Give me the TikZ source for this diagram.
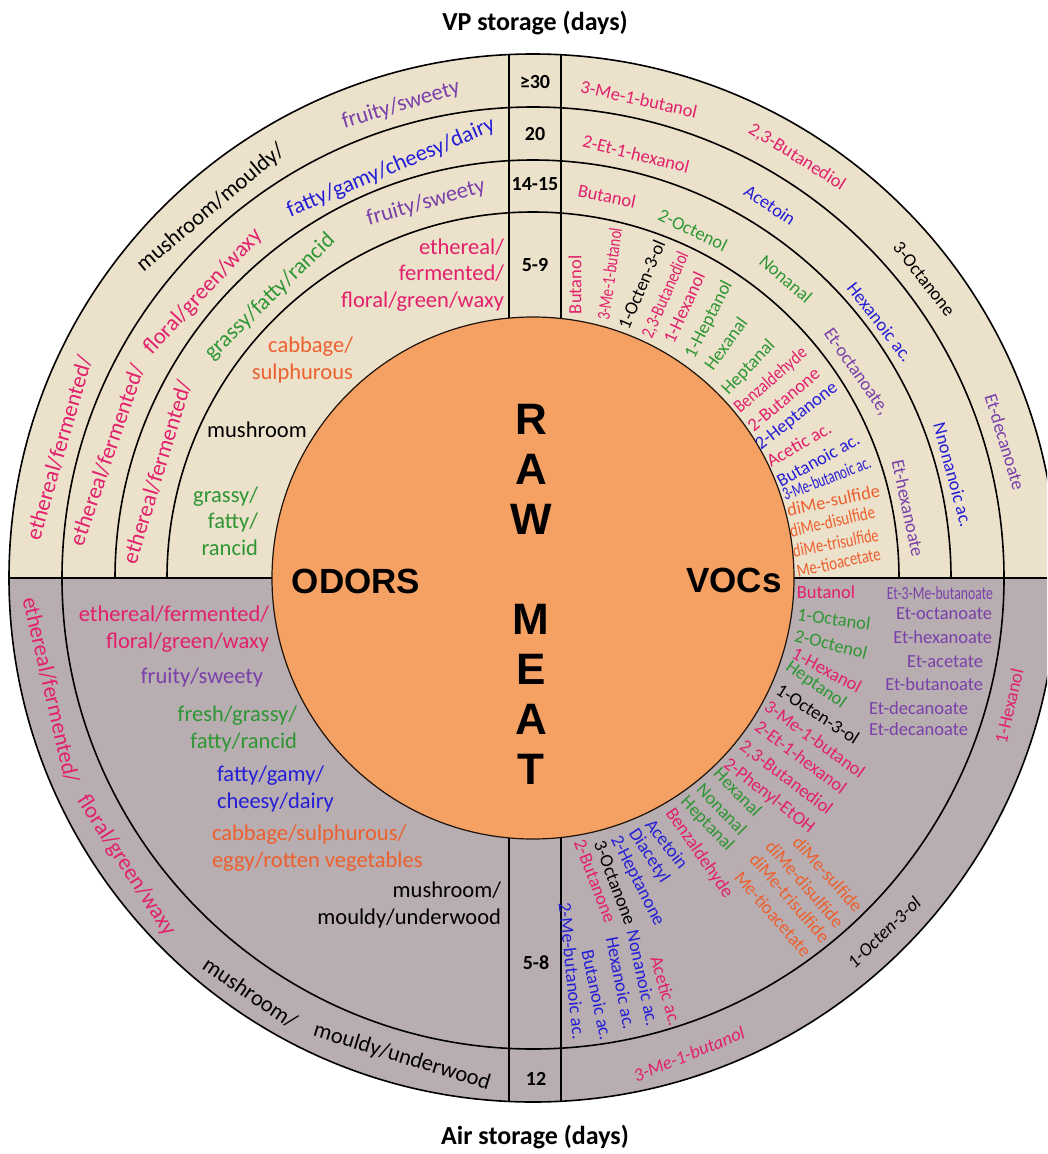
\documentclass[tikz,border=0pt]{standalone}
\usepackage{fontspec}
\setmainfont{Carlito}
\newfontfamily\arialfont{Liberation Sans}
\definecolor{cpink}{RGB}{226,32,108}
\definecolor{cpurple}{RGB}{122,64,170}
\definecolor{cblue}{RGB}{36,30,214}
\definecolor{cgreen}{RGB}{46,150,52}
\definecolor{corange}{RGB}{236,96,46}
\definecolor{ctan}{RGB}{236,225,203}
\definecolor{cgrey}{RGB}{184,173,176}
\definecolor{cmeat}{RGB}{245,161,99}
\newcommand{\fOdor}{\fontsize{22.5}{26.5}\selectfont}
\newcommand{\fVoc}{\fontsize{18.5}{21}\selectfont}
\newcommand{\fNum}{\fontsize{20}{22}\selectfont\bfseries}
\newcommand{\fTitle}{\fontsize{26}{30}\selectfont\bfseries}
\newcommand{\fBig}{\arialfont\fontsize{44}{46}\selectfont\bfseries}
\newcommand{\fMid}{\arialfont\fontsize{35}{40}\selectfont\bfseries}
\newcommand{\cond}[2]{\scalebox{#1}[1]{#2}}
\begin{document}
\begin{tikzpicture}[x=1pt,y=-1pt,
  lbl/.style={inner sep=0pt,outer sep=0pt},
  od/.style={lbl,font=\fOdor},
  vc/.style={lbl,font=\fVoc},
  num/.style={lbl,font=\fNum},
  ring/.style={draw=black,line width=1.6pt}]
\useasboundingbox (0,0) rectangle (1047,1154);
\fill[white] (0,0) rectangle (1047,1154);
\coordinate (C) at (533,578);
\begin{scope}
 \clip (0,0) rectangle (1047,1154);
 \begin{scope}
  \clip (0,0) rectangle (1047,578);
  \fill[ctan] (C) circle[radius=524];
  \draw[ring] (C) circle[radius=418] (C) circle[radius=366];
 \end{scope}
 \begin{scope}
  \clip (0,578) rectangle (1047,1154);
  \fill[cgrey] (C) circle[radius=524];
 \end{scope}
 \draw[ring] (C) circle[radius=471];
 \begin{scope}
  \clip (C) circle[radius=524];
  \draw[ring] (509,0) -- (509,1154) (561,0) -- (561,1154) (0,578) -- (1047,578);
 \end{scope}
 \draw[ring] (C) circle[radius=524];
\end{scope}
\draw[line width=1.2pt, draw=black!85!brown, fill=cmeat] (C) circle[radius=261];

% titles
\node[lbl,font=\fTitle] (t1) at (535,23) {VP storage (days)};
\node[lbl,font=\fTitle] (t2) at (535,1137) {Air storage (days)};

% centre
\node[lbl,font=\fBig] (r1) at (531,419) {R};
\node[lbl,font=\fBig] (r2) at (531,469) {A};
\node[lbl,font=\fBig] (r3) at (531,519) {W};
\node[lbl,font=\fBig] (m1) at (531,619) {M};
\node[lbl,font=\fBig] (m2) at (531,669) {E};
\node[lbl,font=\fBig] (m3) at (531,719) {A};
\node[lbl,font=\fBig] (m4) at (531,769) {T};
\node[lbl,font=\fMid] (odors) at (356,581) {ODORS};
\node[lbl,font=\fMid] (vocs) at (734,580) {VOCs};

% strip numbers
\node[num] (n1) at (535,82) {≥30};
\node[num] (n2) at (535,134) {20};
\node[num] (n3) at (535,184) {14-15};
\node[num] (n4) at (535,265) {5-9};
\node[num] (n5) at (536,963) {5-8};
\node[num] (n6) at (536,1079) {12};

% ---- top-left: VP odors
\node[od,text=cpurple,rotate=17] (a1) at (401,105) {fruity/sweety};
\node[od,text=black,rotate=40] (a2) at (211,208) {mushroom/mouldy/};
\node[od,text=cpink,rotate=74] (a3) at (59,448) {ethereal/fermented/};
\node[od,text=cblue,rotate=23] (b1) at (391,168) {fatty/gamy/cheesy/dairy};
\node[od,text=cpink,rotate=71] (b2) at (107,455) {ethereal/fermented/};
\node[od,text=cpink,rotate=47] (b3) at (203,292) {floral/green/waxy};
\node[od,text=cpurple,rotate=16] (c1) at (426,203) {fruity/sweety};
\node[od,text=cgreen,rotate=44] (c2) at (270,297) {grassy/fatty/rancid};
\node[od,text=cpink,rotate=73] (c3) at (157,472) {ethereal/fermented/};
\node[od,text=cpink,align=right,anchor=east] (d1) at (504,275) {ethereal/\\fermented/\\floral/green/waxy};
\node[od,text=corange,align=right,anchor=east] (d2) at (353,360) {cabbage/\\sulphurous};
\node[od,text=black] (d3) at (257,430) {mushroom};
\node[od,text=cgreen,align=right,anchor=east] (d4) at (258,521) {grassy/\\fatty/\\rancid};

% ---- top-right: VP VOCs (rings)
\node[vc,text=cpink,rotate=-12.5] (e1) at (639,99) {3-Me-1-butanol};
\node[vc,text=cpink,rotate=-32] (e2) at (797,157) {2,3-Butanediol};
\node[vc,text=black,rotate=-52] (e3) at (924,279) {3-Octanone};
\node[vc,text=cpurple,rotate=-73] (e4) at (1005,442) {Et-decanoate};
\node[vc,text=cpink,rotate=-14] (f1) at (636,154) {2-Et-1-hexanol};
\node[vc,text=cblue,rotate=-34] (f2) at (770,205) {Acetoin};
\node[vc,text=cblue,rotate=-52] (f3) at (880,322) {Hexanoic ac.};
\node[vc,text=cblue,rotate=-75] (f4) at (953,475) {Nnonanoic ac.};
\node[vc,text=cpink,rotate=-12] (g1) at (607,196) {Butanol};
\node[vc,text=cgreen,rotate=-26] (g2) at (693,230) {2-Octenol};
\node[vc,text=cgreen,rotate=-41] (g3) at (786,279) {Nonanal};
\node[vc,text=cpurple,rotate=-55] (g4) at (856,372) {Et-octanoate,};
\node[vc,text=cpurple,rotate=-78] (g5) at (908,508) {Et-hexanoate};

% ---- top-right: radial VOCs
\node[vc,text=cpink,rotate=90,anchor=west] (h1) at (575,314) {Butanol};
\node[vc,text=cpink,rotate=82,anchor=west] (h2) at (603,320) {\cond{.78}{3-Me-1-butanol}};
\node[vc,text=black,rotate=67,anchor=west] (h3) at (623,328) {1-Octen-3-ol};
\node[vc,text=cpink,rotate=66,anchor=west] (h4) at (647,337) {\cond{.83}{2,3-Butanediol}};
\node[vc,text=cpink,rotate=65,anchor=west] (h5) at (668,342) {1-Hexanol};
\node[vc,text=cgreen,rotate=63,anchor=west] (h6) at (690,357) {1-Heptanol};
\node[vc,text=cgreen,rotate=54,anchor=west] (h7) at (708,368) {Hexanal};
\node[vc,text=cgreen,rotate=46,anchor=west] (h8) at (725,392) {Heptanal};
\node[vc,text=cpink,rotate=41,anchor=west] (h9) at (737,410) {\cond{.86}{Benzaldehyde}};
\node[vc,text=cpink,rotate=40,anchor=west] (h10) at (750,428) {2-Butanone};
\node[vc,text=cblue,rotate=38,anchor=west] (h11) at (758,447) {2-Heptanone};
\node[vc,text=cpink,rotate=30,anchor=west] (h12) at (768,462) {Acetic ac.};
\node[vc,text=cblue,rotate=29,anchor=west] (h13) at (778,482) {Butanoic ac.};
\node[vc,text=cblue,rotate=21,anchor=west] (h14) at (783,495) {\cond{.68}{3-Me-butanoic ac.}};
\node[vc,text=corange,rotate=12,anchor=west] (h15) at (787,510) {diMe-sulfide};
\node[vc,text=corange,rotate=13,anchor=west] (h16) at (790,531) {\cond{.8}{diMe-disulfide}};
\node[vc,text=corange,rotate=11,anchor=west] (h17) at (793,551) {\cond{.78}{diMe-trisulfide}};
\node[vc,text=corange,rotate=12,anchor=west] (h18) at (797,571) {\cond{.8}{Me-tioacetate}};

% ---- bottom-left: Air odors
\node[od,text=cpink,rotate=-77] (i1) at (51,690) {ethereal/fermented/};
\node[od,text=cpink,rotate=-57] (i2) at (126,866) {floral/green/waxy};
\node[od,text=black,rotate=-34] (i3) at (250,993) {mushroom/};
\node[od,text=black,rotate=-17] (i4) at (402,1057) {mouldy/underwood};
\node[od,text=cpink,align=right,anchor=east] (j1) at (269,629) {ethereal/fermented/\\floral/green/waxy};
\node[od,text=cpurple] (j2) at (202,677) {fruity/sweety};
\node[od,text=cgreen,align=right,anchor=east] (j3) at (297,729) {fresh/grassy/\\fatty/rancid};
\node[od,text=cblue,align=left,anchor=west] (j4) at (217,789) {fatty/gamy/\\cheesy/dairy};
\node[od,text=corange,align=left,anchor=west] (j5) at (212,848) {cabbage/sulphurous/\\eggy/rotten vegetables};
\node[od,text=black,align=right,anchor=east] (j6) at (501,905) {mushroom/\\mouldy/underwood};

% ---- bottom-right: Air VOCs
\node[vc,text=cpink,rotate=77] (k1) at (1009,706) {1-Hexanol};
\node[vc,text=black,rotate=44,font=\fVoc\itshape] (k2) at (884,932) {1-Octen-3-ol};
\node[vc,text=cpink,rotate=22,font=\fVoc\itshape] (k3) at (689,1054) {3-Me-1-butanol};
\node[vc,text=cpurple,anchor=east] (l1) at (993,593) {\cond{.74}{Et-3-Me-butanoate}};
\node[vc,text=cpurple,anchor=east] (l2) at (992,614) {Et-octanoate};
\node[vc,text=cpurple,anchor=east] (l3) at (992,637) {Et-hexanoate};
\node[vc,text=cpurple,anchor=east] (l4) at (983,662) {Et-acetate};
\node[vc,text=cpurple,anchor=east] (l5) at (983,684) {Et-butanoate};
\node[vc,text=cpurple,anchor=east] (l6) at (968,708) {Et-decanoate};
\node[vc,text=cpurple,anchor=east] (l7) at (968,729) {Et-decanoate};
\node[vc,text=cpink] (p1) at (826,592) {Butanol};
\node[vc,text=cgreen,rotate=-8] (p2) at (834,619) {1-Octanol};
\node[vc,text=cgreen,rotate=-14] (p3) at (831,644) {2-Octenol};
\node[vc,text=cpink,rotate=-28] (p4) at (827,670) {1-Hexanol};
\node[vc,text=cgreen,rotate=-35] (p5) at (816,685) {Heptanol};
\node[vc,text=black,rotate=-33] (p6) at (818,714) {1-Octen-3-ol};
\node[vc,text=cpink,rotate=-36] (p7) at (815,739) {3-Me-1-butanol};
\node[vc,text=cpink,rotate=-37] (p8) at (801,757) {2-Et-1-hexanol};
\node[vc,text=cpink,rotate=-37] (p9) at (786,778) {2,3-Butanediol};
\node[vc,text=cpink,rotate=-38] (p10) at (769,796) {2-Phenyl-EtOH};
\node[vc,text=cgreen,rotate=-46] (p11) at (738,792) {Hexanal};
\node[vc,text=cgreen,rotate=-46] (p12) at (722,809) {Nonanal};
\node[vc,text=cgreen,rotate=-46] (p13) at (707,824) {Heptanal};
\node[vc,text=cpink,rotate=-55] (p14) at (699,853) {Benzaldehyde};
\node[vc,text=cblue,rotate=-52] (p15) at (667,844) {Acetoin};
\node[vc,text=cblue,rotate=-57] (p16) at (649,856) {Diacetyl};
\node[vc,text=cblue,rotate=-63] (p17) at (637,881) {2-Heptanone};
\node[vc,text=black,rotate=-69] (p18) at (615,883) {3-Octanone};
\node[vc,text=cpink,rotate=-69] (p19) at (595,881) {2-Butanone};
\node[vc,text=cblue,rotate=-84] (p20) at (572,971) {2-Me-butanoic ac.};
\node[vc,text=cblue,rotate=-78] (p21) at (597,995) {Butanoic ac.};
\node[vc,text=cblue,rotate=-79] (p22) at (621,983) {Hexanoic ac.};
\node[vc,text=cblue,rotate=-78] (p23) at (643,978) {Nonanoic ac.};
\node[vc,text=cpink,rotate=-74] (p24) at (666,991) {Acetic ac.};
\node[vc,text=corange,rotate=-48] (p25) at (828,874) {diMe-sulfide};
\node[vc,text=corange,rotate=-49] (p26) at (805,884) {diMe-disulfide};
\node[vc,text=corange,rotate=-49] (p27) at (790,898) {diMe-trisulfide};
\node[vc,text=corange,rotate=-49] (p28) at (773,914) {Me-tioacetate};
\end{tikzpicture}
\end{document}
